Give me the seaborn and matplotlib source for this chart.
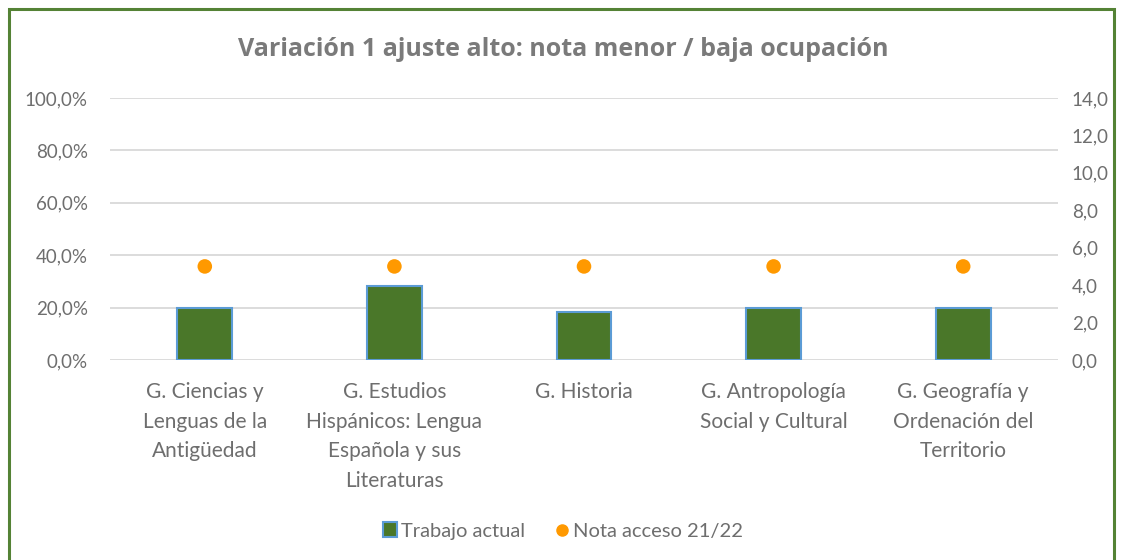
import matplotlib.pyplot as plt
import matplotlib.patches as mpatches
from matplotlib.lines import Line2D
from matplotlib.ticker import FuncFormatter
import numpy as np
import pandas as pd
import seaborn as sns

categorias = ['G. Ciencias y\nLenguas de la\nAntigüedad',
              'G. Estudios\nHispánicos: Lengua\nEspañola y sus\nLiteraturas',
              'G. Historia',
              'G. Antropología\nSocial y Cultural',
              'G. Geografía y\nOrdenación del\nTerritorio']
trabajo_actual = [20.0, 28.3, 18.4, 20.0, 20.0]
nota_acceso = [5.0, 5.0, 5.0, 5.0, 5.0]

data = pd.DataFrame({'Grado': categorias, 'Trabajo': trabajo_actual, 'Nota': nota_acceso})

sns.set_style('white')
plt.rcParams['font.family'] = ['Lato', 'DejaVu Sans']
gris = '#6e6e6e'

fig = plt.figure(figsize=(11.26, 5.6), dpi=100)
ax = fig.add_axes([110/1126, 1-360/560, 948/1126, 262/560])

sns.barplot(data=data, x='Grado', y='Trabajo', ax=ax, color='#4a7729',
            edgecolor='#5b9bd5', linewidth=1.5, width=0.29, saturation=1)
ax.set_ylim(0, 100)
ax.set_yticks(np.arange(0, 101, 20))
ax.yaxis.set_major_formatter(FuncFormatter(lambda v, p: f'{v:.1f}%'.replace('.', ',')))
ax.yaxis.grid(True, color='#d9d9d9', linewidth=1.3)
ax.set_axisbelow(True)
for s in ax.spines.values():
    s.set_visible(False)
ax.set_xlabel('')
ax.set_ylabel('')
ax.tick_params(axis='both', length=0, colors=gris, labelsize=13.5)
ax.tick_params(axis='x', pad=16, labelsize=15)
ax.tick_params(axis='y', pad=16)
for lbl in ax.get_xticklabels():
    lbl.set_linespacing(1.6)

ax2 = ax.twinx()
sns.scatterplot(x=np.arange(len(categorias)), y=data['Nota'], ax=ax2,
                color='#ff9900', s=110, edgecolor='none', zorder=5)
ax2.set_ylim(0, 14)
ax2.set_yticks(np.arange(0, 15, 2))
ax2.yaxis.set_major_formatter(FuncFormatter(lambda v, p: f'{v:.1f}'.replace('.', ',')))
for s in ax2.spines.values():
    s.set_visible(False)
ax2.set_ylabel('')
ax2.tick_params(axis='y', length=0, colors=gris, labelsize=13.5, pad=10)
ax.set_xlim(-0.5, len(categorias) - 0.5)

fig.text(0.5, 1-49/560, 'Variación 1 ajuste alto: nota menor / baja ocupación',
         ha='center', va='center', fontsize=18, fontweight='bold', color='#7a7a7a',
         family=['Open Sans', 'DejaVu Sans'])

handles = [mpatches.Patch(facecolor='#4a7729', edgecolor='#5b9bd5', linewidth=1.5, label='Trabajo actual'),
           Line2D([], [], marker='o', linestyle='none', color='#ff9900', markersize=8, label='Nota acceso 21/22')]
leg = fig.legend(handles=handles, loc='center', bbox_to_anchor=(0.5, 1-531/560), ncol=2,
                 frameon=False, fontsize=14.5, handlelength=0.7, handletextpad=0.2, columnspacing=1.5)
for t in leg.get_texts():
    t.set_color(gris)

fig.patches.append(mpatches.Rectangle((9/1126, -0.1), 1105/1126, 1.1-9/560, transform=fig.transFigure,
                                      fill=False, edgecolor='#548235', linewidth=2.2))

fig.savefig('out.png', dpi=100)
